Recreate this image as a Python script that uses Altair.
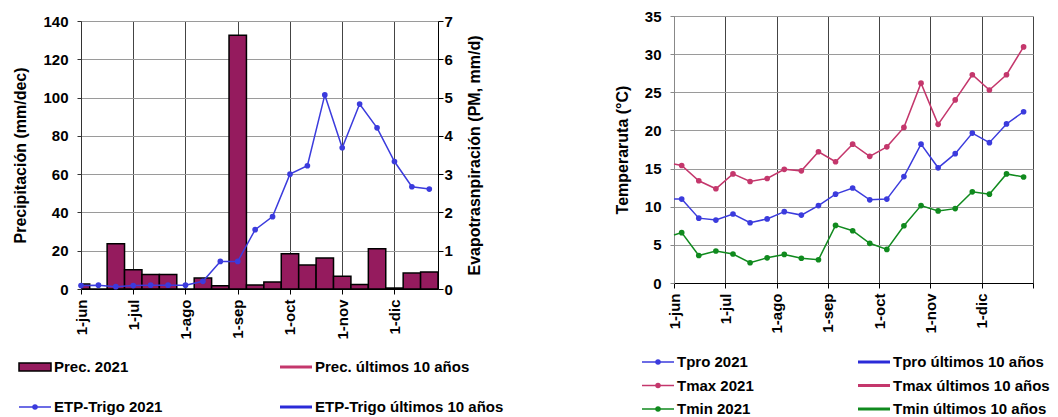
import json
import altair as alt
import pandas as pd

FONT = "Liberation Sans"

# ---------------- data ----------------
month_labels = ["1-jun", "1-jul", "1-ago", "1-sep", "1-oct", "1-nov", "1-dic"]
month_pos = [0, 3, 6, 9, 12, 15, 18]          # dekad index of each month start

dekads = list(range(21))
prec_2021 = [2.6, 0.0, 23.6, 10.1, 7.6, 7.6, 0.0, 5.7, 1.7, 132.5, 2.1, 3.6,
             18.4, 12.5, 16.2, 6.6, 2.4, 21.0, 0.5, 8.3, 8.9]
etp_2021 = [0.09, 0.10, 0.06, 0.09, 0.10, 0.10, 0.10, 0.20, 0.72, 0.72, 1.55,
            1.89, 3.00, 3.22, 5.07, 3.69, 4.83, 4.21, 3.33, 2.67, 2.61]

tpro_2021 = [11.0, 8.5, 8.25, 9.05, 7.9, 8.4, 9.35, 8.9, 10.15, 11.65, 12.45,
             10.9, 11.0, 13.95, 18.2, 15.1, 16.95, 19.65, 18.4, 20.85, 22.45]
tmax_2021 = [15.4, 13.4, 12.35, 14.3, 13.3, 13.7, 14.9, 14.7, 17.2, 15.9, 18.2,
             16.6, 17.85, 20.4, 26.2, 20.8, 24.0, 27.3, 25.3, 27.3, 30.95]
tmin_2021 = [6.6, 3.6, 4.2, 3.8, 2.65, 3.3, 3.75, 3.25, 3.05, 7.55, 6.85,
             5.2, 4.4, 7.5, 10.15, 9.45, 9.75, 11.95, 11.65, 14.3, 13.9]
# where each 2021 temperature line enters at the left edge of the plot
edge_values = {"Tpro 2021": 11.0, "Tmax 2021": 15.6, "Tmin 2021": 6.3}

temp_series = ["Tpro 2021", "Tmax 2021", "Tmin 2021"]

left_legend_labels = ["Prec. 2021", "Prec. últimos 10 años",
                      "ETP-Trigo 2021", "ETP-Trigo últimos 10 años"]
right_legend_labels = ["Tpro 2021", "Tpro últimos 10 años",
                       "Tmax 2021", "Tmax últimos 10 años",
                       "Tmin 2021", "Tmin últimos 10 años"]

# ---------------- styles ----------------
BAR = "#951B5E"
BLUE = "#3B3BDD"
BLUE_T = "#2A2AD8"
PINK = "#C4376C"
GREEN = "#108A1E"
VGRID = "#444444"
HGRID = "#9A9A9A"

LW, LH = 357, 268      # left plot size
RW, RH = 359, 267      # right plot size

pos_js = json.dumps(month_pos)
lab_js = json.dumps(month_labels, ensure_ascii=False)
label_expr = (f"indexof({pos_js}, datum.value) >= 0 ? "
              f"{lab_js}[indexof({pos_js}, datum.value)] : ''")


def x_axis(values):
    return alt.Axis(values=values, labelExpr=label_expr, labelAngle=-90,
                    grid=True, gridColor=VGRID, gridWidth=1, title=None,
                    domainColor="#000", tickColor="#000", tickSize=5,
                    labelPadding=5)


# ---------------- left panel ----------------
prec_df = pd.DataFrame({"d": dekads, "prec": prec_2021, "etp": etp_2021})
xs_left = alt.Scale(domain=[0, 20.5], nice=False, zero=False)

bars = alt.Chart(prec_df).transform_calculate(
    lo="datum.d - 0.5", hi="datum.d + 0.5"
).mark_rect(fill=BAR, stroke="#000", strokeWidth=1.5, clip=True).encode(
    x=alt.X("lo:Q", scale=xs_left, axis=x_axis(month_pos)),
    x2="hi:Q",
    y=alt.Y("prec:Q", scale=alt.Scale(domain=[0, 140], nice=False),
            axis=alt.Axis(values=list(range(0, 141, 20)),
                          title="Precipitación (mm/dec)", grid=True,
                          gridColor=HGRID, domainColor="#333", tickColor="#333",
                          tickSize=4, labelPadding=9, titlePadding=14)),
)

etp_line = alt.Chart(prec_df).mark_line(
    color=BLUE, strokeWidth=1.5,
    point=alt.OverlayMarkDef(filled=True, size=32, color=BLUE)
).encode(
    x=alt.X("d:Q", scale=xs_left, axis=x_axis(month_pos)),
    y=alt.Y("etp:Q", scale=alt.Scale(domain=[0, 7], nice=False),
            axis=alt.Axis(orient="right", values=list(range(0, 8)),
                          title="Evapotrasnpiración (PM, mm/d)", grid=False,
                          titleAngle=270, titleBaseline="top",
                          domainColor="#000", tickColor="#000", tickSize=5,
                          labelPadding=1, titlePadding=14)),
)

left_plot = alt.layer(bars, etp_line).resolve_scale(y="independent").properties(
    width=LW, height=LH)

# ---------------- right panel ----------------
OFFSET = 0.45
rows = []
for name, vals in zip(temp_series, [tpro_2021, tmax_2021, tmin_2021]):
    rows.append({"x": 0.0, "t": edge_values[name], "serie": name, "dot": False})
    for i, v in zip(dekads, vals):
        rows.append({"x": i + OFFSET, "t": v, "serie": name, "dot": True})
temp_df = pd.DataFrame(rows)

xs_right = alt.Scale(domain=[0, 21], nice=False, zero=False)
col_scale = alt.Scale(domain=temp_series, range=[BLUE, PINK, GREEN])
y_temp = alt.Y("t:Q", scale=alt.Scale(domain=[0, 35], nice=False),
               axis=alt.Axis(values=list(range(0, 36, 5)),
                             title="Temperaruta (°C)", grid=True,
                             gridColor=HGRID, domainColor="#888",
                             tickColor="#888", tickSize=4, labelPadding=9,
                             titlePadding=14))
x_temp = alt.X("x:Q", scale=xs_right, axis=x_axis(month_pos + [21]))

t_lines = alt.Chart(temp_df).mark_line(strokeWidth=1.5).encode(
    x=x_temp, y=y_temp,
    color=alt.Color("serie:N", scale=col_scale, legend=None),
    detail="serie:N",
)
t_points = alt.Chart(temp_df).transform_filter("datum.dot").mark_point(
    filled=True, size=32, opacity=1
).encode(
    x=x_temp, y=y_temp,
    color=alt.Color("serie:N", scale=col_scale, legend=None),
)
right_plot = alt.layer(t_lines, t_points).properties(width=RW, height=RH)


# ---------------- legends (drawn under each panel) ----------------
def legend_chart(labels, cols, rws, kinds, colors, width, height,
                 xrange, yrange, ydomain):
    df = pd.DataFrame({"label": labels, "col": cols, "row": rws,
                       "kind": kinds, "c": colors})
    base = alt.Chart(df).encode(
        x=alt.X("col:Q", scale=alt.Scale(domain=[0, 1], range=xrange), axis=None),
        y=alt.Y("row:Q", scale=alt.Scale(domain=ydomain, range=yrange), axis=None),
        color=alt.Color("c:N", scale=None, legend=None),
    )
    thin = base.transform_filter("datum.kind == 'line21'").mark_rule(
        strokeWidth=1.5, x2Offset=32).encode(x2="col:Q")
    thick = base.transform_filter("datum.kind == 'line10'").mark_rule(
        strokeWidth=3, x2Offset=32).encode(x2="col:Q")
    dots = base.transform_filter("datum.kind == 'line21'").mark_point(
        filled=True, size=30, opacity=1, xOffset=16)
    boxes = base.transform_filter("datum.kind == 'bar'").mark_rect(
        stroke="#000", strokeWidth=1.5, x2Offset=32, yOffset=-4, y2Offset=4
    ).encode(x2="col:Q", y2="row:Q")
    texts = base.mark_text(align="left", baseline="middle", dx=35,
                           fontSize=15, fontWeight="bold", font=FONT,
                           color="#000").encode(text="label:N", color=alt.value("#000"))
    return alt.layer(boxes, thin, thick, dots, texts).properties(
        width=width, height=height)


left_legend = legend_chart(
    left_legend_labels, [0, 1, 0, 1], [0, 0, 1, 1],
    ["bar", "line10", "line21", "line10"], [BAR, PINK, BLUE, BLUE_T],
    LW, 83, [-62, 199], [38, 78], [0, 1])

right_legend = legend_chart(
    right_legend_labels, [0, 1, 0, 1, 0, 1], [0, 0, 1, 1, 2, 2],
    ["line21", "line10"] * 3, [BLUE, BLUE_T, PINK, PINK, GREEN, GREEN],
    RW, 94, [-32, 184], [39, 86], [0, 2])

# a blank strip that lowers the left panel a few pixels relative to the right one
spacer = alt.Chart(pd.DataFrame({"v": [0]})).mark_rule(opacity=0).encode(
    x=alt.value(0), y=alt.value(0)).properties(width=LW, height=1)

left_body = alt.vconcat(left_plot, left_legend, spacing=40, bounds="flush")
left = alt.vconcat(spacer, left_body, spacing=4, bounds="flush")
right = alt.vconcat(right_plot, right_legend, spacing=40, bounds="flush")

# nested concat groups count as zero-width under flush bounds,
# so the column spacing includes the left plot width
chart = alt.hconcat(left, right, spacing=LW + 236, bounds="flush").properties(
    padding={"left": 4, "top": 1, "right": 0, "bottom": 0}
).configure(font=FONT).configure_view(stroke=None).configure_axis(
    labelFont=FONT, labelFontSize=15, labelFontWeight="bold", labelColor="#000",
    titleFont=FONT, titleFontSize=16, titleFontWeight="bold", titleColor="#000",
)

chart.save("out.html", embed_options={"renderer": "svg", "actions": False})
